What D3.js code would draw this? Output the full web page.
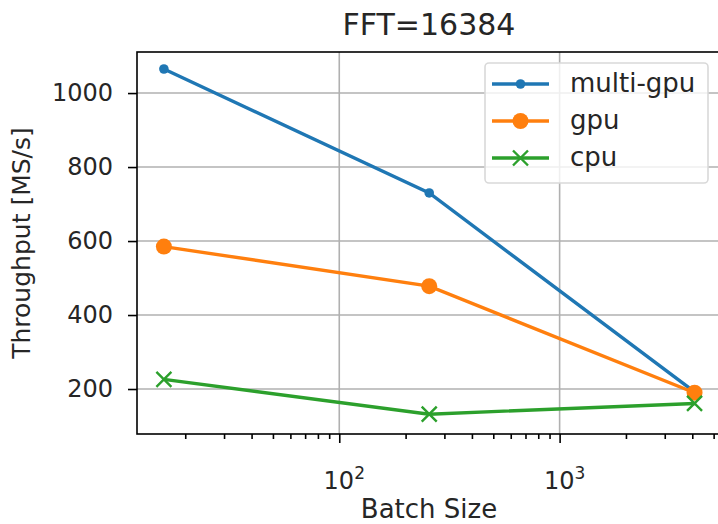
<!DOCTYPE html>
<html>
<head>
<meta charset="utf-8">
<script src="https://cdn.jsdelivr.net/npm/d3@7"></script>
<style>
  body { margin: 0; background: #fff; }
  text { font-family: "DejaVu Sans", sans-serif; fill: #262626; }
</style>
</head>
<body>
<div id="chart"></div>
<script>
// data
var batchSizes = [16, 256, 4096];
var multiGpu = [1065, 730, 192];
var gpu = [585, 478, 190];
var cpu = [226, 132, 161];
var yTicks = [200, 400, 600, 800, 1000];
var xTicks = [100, 1000];

var W = 718, H = 524;
var margin = {top: 52, left: 137};
var plotRight = 721, plotBottom = 434;

var x = d3.scaleLog().domain([12.08, 5400]).range([margin.left, plotRight]);
var y = d3.scaleLinear().domain([78.4, 1111]).range([plotBottom, margin.top]);

var svg = d3.select("#chart").append("svg")
    .attr("width", W)
    .attr("height", H);

// grid
svg.append("g").selectAll("line")
    .data(yTicks).enter().append("line")
    .attr("x1", margin.left).attr("x2", plotRight)
    .attr("y1", function(d) { return y(d); })
    .attr("y2", function(d) { return y(d); })
    .style("stroke", "#b0b0b0").style("stroke-width", 1.6);
svg.append("g").selectAll("line")
    .data(xTicks).enter().append("line")
    .attr("x1", function(d) { return x(d); })
    .attr("x2", function(d) { return x(d); })
    .attr("y1", margin.top).attr("y2", plotBottom)
    .style("stroke", "#b0b0b0").style("stroke-width", 1.6);

// axes
var minor = [];
[10, 100, 1000].forEach(function(p) {
    for (var k = 2; k <= 9; k++) minor.push(p * k);
});
minor = minor.filter(function(v) { return v > 12.08 && v < 5400; });

var xAxis = svg.append("g")
    .attr("transform", "translate(0," + plotBottom + ")");
xAxis.call(d3.axisBottom(x).tickValues(minor).tickSize(5).tickFormat(""));
xAxis.append("g").call(d3.axisBottom(x).tickValues(xTicks).tickSize(9).tickFormat(""));
xAxis.selectAll("path").remove();
xAxis.selectAll("line").style("stroke", "#000").style("stroke-width", 1.6);

svg.selectAll("text.xt")
    .data(xTicks).enter().append("text")
    .attr("class", "xt")
    .attr("x", function(d) { return x(d) + 5; })
    .attr("y", 489)
    .attr("text-anchor", "middle")
    .style("font-size", "24px")
    .each(function(d) {
        var t = d3.select(this);
        t.append("tspan").text("10");
        t.append("tspan").attr("dy", -10).style("font-size", "17px")
            .text(Math.round(Math.log10(d)));
    });

var yAxis = svg.append("g")
    .attr("transform", "translate(" + margin.left + ",0)")
    .call(d3.axisLeft(y).tickValues(yTicks).tickSize(9).tickPadding(15)
        .tickFormat(d3.format("d")));
yAxis.select("path").remove();
yAxis.selectAll("line").style("stroke", "#000").style("stroke-width", 1.6);
yAxis.selectAll("text")
    .style("font-size", "24px")
    .style("font-family", "DejaVu Sans")
    .style("fill", "#262626");

// frame
svg.append("rect")
    .attr("x", margin.left).attr("y", margin.top)
    .attr("width", plotRight - margin.left)
    .attr("height", plotBottom - margin.top)
    .style("fill", "none").style("stroke", "#000").style("stroke-width", 1.6);

// series
var series = [
    {name: "multi-gpu", values: multiGpu, color: "#1f77b4", marker: "dot"},
    {name: "gpu", values: gpu, color: "#ff7f0e", marker: "circle"},
    {name: "cpu", values: cpu, color: "#2ca02c", marker: "x"}
];

var line = d3.line()
    .x(function(d) { return x(d[0]); })
    .y(function(d) { return y(d[1]); });

function drawMarker(g, type, color) {
    if (type === "dot") {
        g.append("circle").attr("r", 4.8).style("fill", color);
    } else if (type === "circle") {
        g.append("circle").attr("r", 8).style("fill", color);
    } else {
        var s = 7.5;
        g.append("path")
            .attr("d", "M" + (-s) + "," + (-s) + "L" + s + "," + s +
                       "M" + (-s) + "," + s + "L" + s + "," + (-s))
            .style("stroke", color).style("stroke-width", 2.4).style("fill", "none");
    }
}

series.forEach(function(s) {
    var pts = batchSizes.map(function(b, i) { return [b, s.values[i]]; });
    svg.append("path")
        .datum(pts)
        .attr("d", line)
        .style("fill", "none")
        .style("stroke", s.color)
        .style("stroke-width", 3.4);
    pts.forEach(function(p) {
        var g = svg.append("g")
            .attr("transform", "translate(" + x(p[0]) + "," + y(p[1]) + ")");
        drawMarker(g, s.marker, s.color);
    });
});

// legend
var legend = svg.append("g");
legend.append("rect")
    .attr("x", 485).attr("y", 63)
    .attr("width", 223).attr("height", 120)
    .attr("rx", 4)
    .style("fill", "#fff").style("fill-opacity", 0.8)
    .style("stroke", "#d9d9d9").style("stroke-width", 1.6);
series.forEach(function(s, i) {
    var ly = 84 + i * 37;
    legend.append("line")
        .attr("x1", 492).attr("x2", 549)
        .attr("y1", ly).attr("y2", ly)
        .style("stroke", s.color).style("stroke-width", 3.4);
    var g = legend.append("g").attr("transform", "translate(520.5," + ly + ")");
    drawMarker(g, s.marker, s.color);
    legend.append("text")
        .attr("x", 570).attr("y", ly)
        .attr("dy", "0.3em")
        .style("font-size", "26px")
        .text(s.name);
});

// titles
svg.append("text")
    .attr("x", (margin.left + plotRight) / 2)
    .attr("y", 35)
    .attr("text-anchor", "middle")
    .style("font-size", "30px")
    .text("FFT=16384");

svg.append("text")
    .attr("x", (margin.left + plotRight) / 2)
    .attr("y", 518)
    .attr("text-anchor", "middle")
    .style("font-size", "26px")
    .text("Batch Size");

svg.append("text")
    .attr("transform", "translate(30," + ((margin.top + plotBottom) / 2) + ") rotate(-90)")
    .attr("text-anchor", "middle")
    .style("font-size", "25px")
    .text("Throughput [MS/s]");
</script>
</body>
</html>
